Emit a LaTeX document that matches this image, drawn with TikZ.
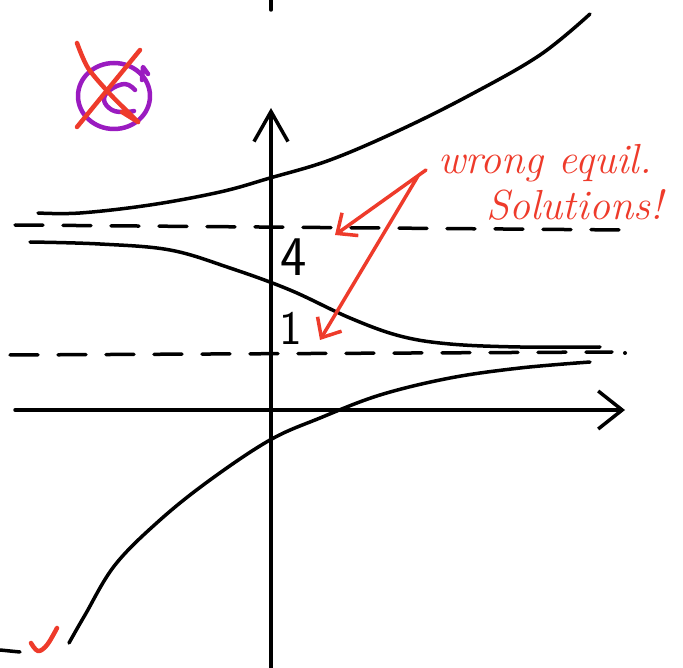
\documentclass[tikz,border=0pt]{standalone}
\usepackage{tikz}
\usetikzlibrary{arrows.meta,positioning}
\definecolor{InkRed}{HTML}{EE3B2B}
\definecolor{InkPurple}{HTML}{9A1BC0}

\begin{document}
\begin{tikzpicture}[x=1pt,y=-1pt,
  ink/.style={line width=3.5pt,line cap=round,line join=round},
  axis/.style={ink,black},
  equil/.style={ink,black,dash pattern=on 28pt off 20pt},
  sol/.style={ink,black},
  note/.style={ink,InkRed,-{Straight Barb[length=16pt,width=28pt]}},
  lbl/.style={inner sep=0pt,font=\sffamily\fontsize{#1}{#1}\selectfont},
  hand/.style={inner sep=0pt,anchor=base west,text=InkRed,
               font=\itshape\fontsize{42}{44}\selectfont}
]
\useasboundingbox (0,0) rectangle (683,668);
% axes
\draw[axis] (271,0) -- (271,10);
\draw[axis,-{Straight Barb[length=30pt,width=34pt]}] (271,668) -- (271,108);
\draw[axis,-{Straight Barb[length=24pt,width=38pt]}] (15,410) -- (625,410);
% equilibrium lines
\draw[equil] (15,225) -- (625,230);
\draw[equil] (10,355) -- (612,352);
\fill (625,353) circle (2pt);
\node[lbl=56] (four) at (294,257) {4};
\node[lbl=48] (one)  at (291,328) {1};
% solution curves
\draw[sol] plot[smooth,tension=0.6] coordinates {(38,213) (80,213) (150,205) (220,192)
  (270,178) (330,160) (400,130) (470,95) (540,55) (590,14)};
\draw[sol] plot[smooth,tension=0.6] coordinates {(30,242) (100,244) (170,250) (230,268)
  (290,290) (350,318) (400,336) (450,344) (520,347) (600,347)};
\draw[sol] plot[smooth,tension=0.6] coordinates {(69,643) (85,615) (115,565) (160,520)
  (210,480) (270,440) (320,418) (380,395) (450,378) (520,368) (590,362)};
\draw[ink] (0,650) -- (20,652);
% remark
\node[hand] (wrong) at (438,174) {wrong equil.};
\node[hand] (solu)  at (486,220) {Solutions!};
\coordinate (from) at (426,170);
\coordinate (up)   at (335,235);
\coordinate (down) at (320,340);
\draw[note] (from) -- (up);
\draw[note] ([shift={(-8,6)}]from) -- (down);
% crossed out C
\draw[ink,InkPurple,line width=4.5pt] (114,96) ellipse [x radius=36,y radius=33];
\draw[ink,InkPurple,line width=4.5pt] (142,80) -- (143,67) -- (148,74);
\draw[ink,InkPurple,line width=4.5pt] plot[smooth,tension=0.7] coordinates {(135,90) (125,84) (110,90)
  (104,100) (112,110) (125,112) (134,111)};
\draw[ink,InkRed,line width=4.5pt] plot[smooth,tension=0.5] coordinates {(77,43) (88,68) (110,94) (130,114) (138,122)};
\draw[ink,InkRed,line width=4.5pt] (122,112) -- (138,122);
\draw[ink,InkRed,line width=4.5pt] (140,50) -- (77,127);
% tick
\draw[ink,InkRed,line width=4.5pt] plot[smooth,tension=0.6] coordinates {(31,643) (38,651) (47,645) (57,628)};
\end{tikzpicture}
\end{document}
